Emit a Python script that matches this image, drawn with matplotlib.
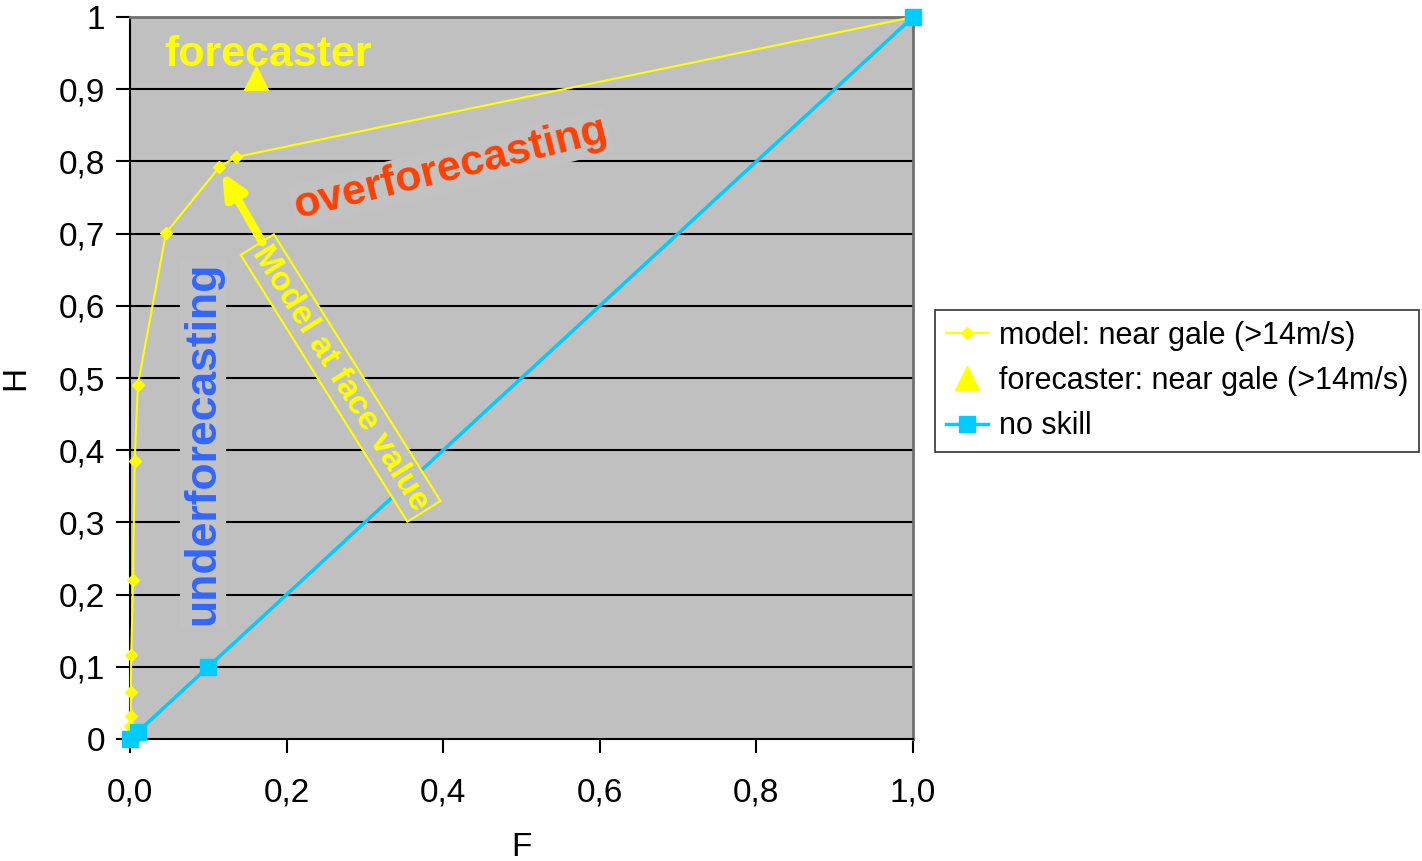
import matplotlib
matplotlib.use("Agg")
import matplotlib.pyplot as plt
from matplotlib.ticker import FixedLocator, FuncFormatter

plt.rcParams['font.family'] = ['Liberation Sans', 'DejaVu Sans']

# Data
model_F = [0.0, 0.0005, 0.001, 0.001, 0.0015, 0.004, 0.006, 0.010, 0.046, 0.114, 0.135, 1.0]
model_H = [0.0, 0.018, 0.032, 0.065, 0.116, 0.220, 0.385, 0.490, 0.701, 0.792, 0.806, 1.0]
forecaster_F = [0.161]
forecaster_H = [0.915]
noskill_F = [0.0, 0.01, 0.1, 1.0]
noskill_H = [0.0, 0.01, 0.1, 1.0]

x_ticks = [0.0, 0.2, 0.4, 0.6, 0.8, 1.0]
y_ticks = [0.0, 0.1, 0.2, 0.3, 0.4, 0.5, 0.6, 0.7, 0.8, 0.9, 1.0]

fig = plt.figure(figsize=(14.22, 8.61), dpi=100)
ax = fig.add_axes([130/1422, 1-739/861, (913-130)/1422, (739-17)/861])
ax.set_facecolor('#C0C0C0')
ax.set_xlim(0, 1)
ax.set_ylim(0, 1)

for yv in y_ticks[1:-1]:
    ax.axhline(yv, color='black', lw=1.5, zorder=1)

l1, = ax.plot(model_F, model_H, color='#FFFF00', lw=1.5, marker='D', markersize=6,
              markeredgecolor='#FFFF00', zorder=4, clip_on=False,
              label='model: near gale (>14m/s)')
l2, = ax.plot(forecaster_F, forecaster_H, ls='none', marker='^', markersize=17,
              color='#FFFF00', zorder=5, label='forecaster: near gale (>14m/s)')
l3, = ax.plot(noskill_F, noskill_H, color='#00CCFF', lw=2.5, marker='s', markersize=12,
              zorder=5, clip_on=False, label='no skill')

# Annotations
ax.text(0.044, 0.948, 'forecaster', color='#FFFF00', fontsize=31, fontweight='bold',
        ha='left', va='center', zorder=6)
ax.text(0.41, 0.79, 'overforecasting', color='#FF4000', fontsize=31, fontweight='bold',
        ha='center', va='center', rotation=14, rotation_mode='anchor', zorder=6,
        bbox=dict(facecolor='#C2C2C2', edgecolor='none', pad=2))
ax.text(0.093, 0.41, 'underforecasting', color='#3366FF', fontsize=32, fontweight='bold',
        ha='center', va='center', rotation=90, zorder=6,
        bbox=dict(facecolor='#C2C2C2', edgecolor='none', pad=2))
ax.text(0.269, 0.50, 'Model at face value', color='#FFFF00', fontsize=24, fontweight='bold',
        ha='center', va='center', rotation=-58, rotation_mode='anchor', zorder=6,
        bbox=dict(facecolor='#C0C0C0', edgecolor='#FFFF00', lw=1.5, pad=3))
ax.annotate('', xy=(0.1175, 0.785), xytext=(0.169, 0.688),
            arrowprops=dict(arrowstyle='-|>,head_length=1.4,head_width=0.65', color='#FFFF00',
                            lw=6, shrinkA=0, shrinkB=0), zorder=6)

# Spines and ticks
for s in ['top', 'right']:
    ax.spines[s].set_color('#707070')
    ax.spines[s].set_linewidth(2)
ax.spines['left'].set_color('black')
ax.spines['bottom'].set_color('black')
ax.spines['left'].set_linewidth(1.5)
ax.spines['bottom'].set_linewidth(1.5)

ax.xaxis.set_major_locator(FixedLocator(x_ticks))
ax.yaxis.set_major_locator(FixedLocator(y_ticks))
ax.xaxis.set_major_formatter(FuncFormatter(lambda v, p: f'{v:.1f}'.replace('.', ',')))
ax.yaxis.set_major_formatter(FuncFormatter(lambda v, p: ('0' if v == 0 else ('1' if v == 1 else f'{v:.1f}'.replace('.', ',')))))
ax.tick_params(axis='both', direction='out', length=10, width=1.5, labelsize=24, color='black')
ax.tick_params(axis='x', pad=18)
ax.tick_params(axis='y', pad=8)

ax.set_xlabel('F', fontsize=24, labelpad=17)
ax.set_ylabel('H', fontsize=24, labelpad=20)

leg = fig.legend(handles=[l1, l2, l3], loc='upper left', bbox_to_anchor=(935/1422, 1-310/861),
                 fontsize=22, frameon=True, fancybox=False, edgecolor='black',
                 handlelength=1.4, handletextpad=0.35, borderpad=0.35, labelspacing=0.5,
                 borderaxespad=0)
leg.get_frame().set_linewidth(1.2)

fig.savefig('out.png', dpi=100)
